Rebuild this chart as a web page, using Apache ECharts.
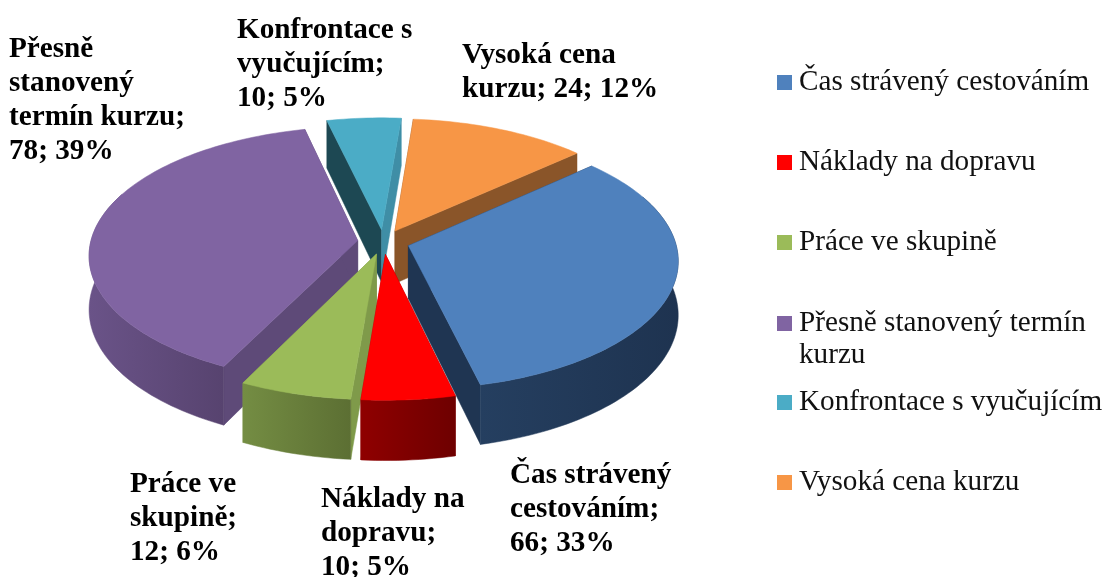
<!DOCTYPE html>
<html>
<head>
<meta charset="utf-8">
<style>
  html, body { margin: 0; background: #fff; }
  #chart { width: 1106px; height: 577px; }
</style>
</head>
<body>
<div id="chart"></div>
<script src="https://cdn.jsdelivr.net/npm/echarts@6/dist/echarts.min.js"></script>
<script>
const categories = ['Čas strávený cestováním', 'Náklady na dopravu', 'Práce ve skupině', 'Přesně stanovený termín kurzu', 'Konfrontace s vyučujícím', 'Vysoká cena kurzu']
const values = [66, 10, 12, 78, 10, 24]
const labelHeads = ['Čas strávený\ncestováním;\n', 'Náklady na\ndopravu;\n', 'Práce ve\nskupině;\n', 'Přesně\nstanovený\ntermín kurzu;\n', 'Konfrontace s\nvyučujícím;\n', 'Vysoká cena\nkurzu; ']

// barvy: vršek, bok vnější (gradient), řezy
const topColors = ['#4f81bd', '#ff0000', '#9bbb59', '#8064a2', '#4bacc6', '#f79646']
const wallFrom = ['#253f60', '#8f0000', '#748d43', '#6a5388', '#2d6373', '#94592a']
const wallTo = ['#1e3350', '#6e0000', '#5c6f33', '#57436f', '#2d6373', '#94592a']
const cutStart = ['#1f3552', '#8b0000', '#7f9a4a', '#5e4a78', '#1d4853', '#8a5529']
const cutEnd = ['#1f3552', '#8b0000', '#7f9a4a', '#5e4a78', '#3f8ea6', '#8a5529']

// pozice popisků (levý horní roh) a legendy
const labelPos = [[510, 458], [321, 482], [130, 467], [9, 32], [237, 13], [462, 38]]
const legendTops = [63, 143, 223, 304, 383, 463]
// pořadí kreslení odzadu dopředu
const drawOrder = [4, 5, 0, 3, 2, 1]

const total = values.reduce((a, b) => a + b, 0)
const CX = 383.5, CY = 242, R = 267, K = 0.475, P = 0.11, DEPTH = 53, EXPLODE = 26
const START = 47.9 * Math.PI / 180
const SERIF = '"Liberation Serif", "Times New Roman", serif'

function project(x, y, z) {
  const s = 1 / (1 - P * y / R)
  return [CX + x * s, CY + y * K * s + z * s]
}

// začátek a konec výseče v radiánech (po směru hodin od vrcholu)
function sliceAngles(i) {
  let before = 0
  for (let j = 0; j < i; j++) before += values[j]
  return [START + before / total * Math.PI * 2, START + (before + values[i]) / total * Math.PI * 2]
}

function arcAngles(a0, a1) {
  const out = []
  const n = Math.max(6, Math.round((a1 - a0) * 40))
  for (let t = 0; t <= n; t++) out.push(a0 + (a1 - a0) * t / n)
  return out
}

function arcPoints(angles, ox, oy, z) {
  return angles.map(a => project(ox + R * Math.sin(a), oy - R * Math.cos(a), z))
}

function poly(points, fill) {
  return { type: 'polygon', shape: { points }, style: { fill, stroke: fill, lineWidth: 0.5 } }
}

function renderSlice(i, params, api) {
  const share = api.value(0) / total
  const [a0, a1] = sliceAngles(i)
  const mid = (a0 + a1) / 2
  const ox = EXPLODE * Math.sin(mid), oy = -EXPLODE * Math.cos(mid)
  const apexTop = project(ox, oy, 0), apexBottom = project(ox, oy, DEPTH)
  const angles = arcAngles(a0, a1)
  const topArc = arcPoints(angles, ox, oy, 0)
  const bottomArc = arcPoints(angles, ox, oy, DEPTH)
  const last = topArc.length - 1
  const pos = labelPos[i]
  const children = [
    poly([apexTop, topArc[0], bottomArc[0], apexBottom], cutStart[i]),
    poly([apexTop, topArc[last], bottomArc[last], apexBottom], cutEnd[i])
  ]
  // vnější bok jen tam, kde míří k divákovi
  const front = angles.filter(a => Math.cos(a) < 0.4)
  if (front.length > 1) {
    const wall = new echarts.graphic.LinearGradient(0, 0, 1, 0, [
      { offset: 0, color: wallFrom[i] }, { offset: 1, color: wallTo[i] }
    ])
    children.push(poly(arcPoints(front, ox, oy, 0).concat(arcPoints(front, ox, oy, DEPTH).reverse()), wall))
  }
  children.push(poly([apexTop].concat(topArc), topColors[i]))
  children.push({
    type: 'text',
    z2: 50,
    style: {
      x: pos[0], y: pos[1],
      text: labelHeads[i] + api.value(0) + '; ' + Math.round(share * 100) + '%',
      font: 'bold 29.2px ' + SERIF,
      lineHeight: 34,
      fill: '#000',
      verticalAlign: 'top'
    }
  })
  return { type: 'group', children }
}

const chart = echarts.init(document.getElementById('chart'))
chart.setOption({
  animation: false,
  backgroundColor: '#fff',
  legend: categories.map((name, i) => ({
    left: 772,
    top: legendTops[i],
    data: [name],
    icon: 'rect',
    itemWidth: 15,
    itemHeight: 15,
    selectedMode: false,
    formatter: n => n.replace(' kurzu', i === 3 ? '' : ' kurzu'),
    textStyle: { fontFamily: SERIF, fontSize: 29.2, color: '#111', padding: [0, 0, 0, 2] }
  })),
  graphic: [{
    type: 'text',
    left: 799,
    top: 341,
    style: { text: 'kurzu', font: '29.2px ' + SERIF, fill: '#111' }
  }],
  series: drawOrder.map((i, order) => ({
    type: 'custom',
    name: categories[i],
    coordinateSystem: 'none',
    z: 2 + order,
    itemStyle: { color: topColors[i] },
    data: [[values[i]]],
    renderItem: (params, api) => renderSlice(i, params, api)
  }))
})
</script>
</body>
</html>
